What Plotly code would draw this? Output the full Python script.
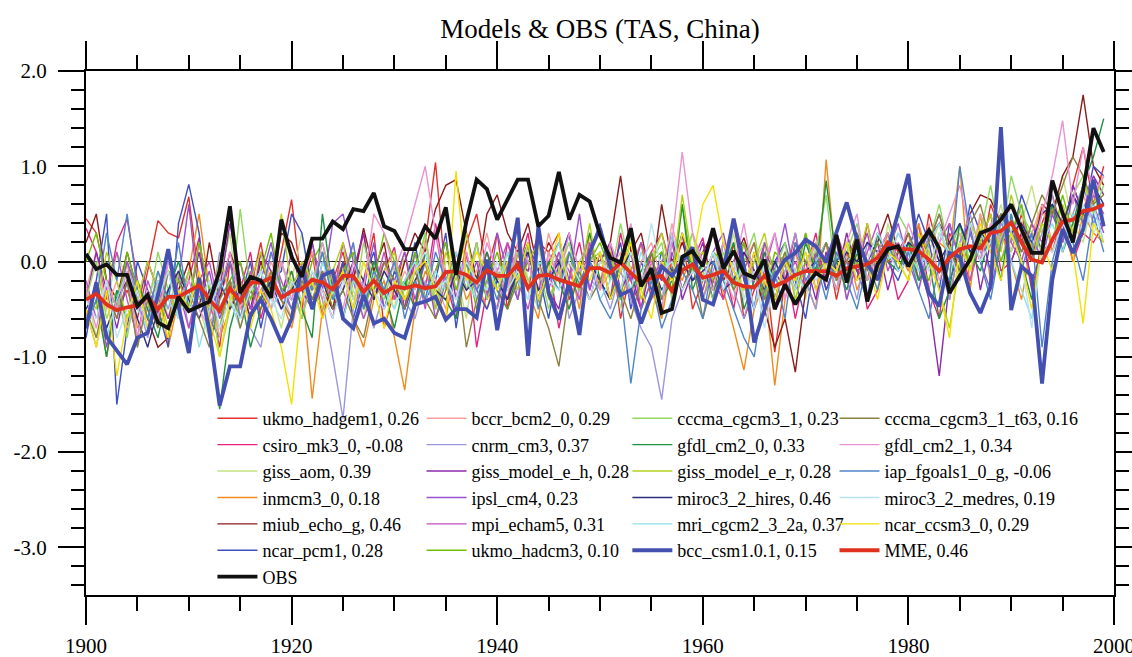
import plotly.graph_objects as go

years = list(range(1900, 2000))

ukmo_hadgem1 = [0.45, 0.3, -0.2, -0.5, -0.3, -0.6, -0.1, 0.43, 0.3, 0.25, 0.68, -0.2, -0.4, -0.9, 0.0, -0.5, -0.3, 0.2, -0.4, 0.1,
                0.65, -0.3, 0.1, -0.6, -0.2, 0.1, -0.4, -0.2, 0.3, -0.7, -0.3, 0.1, -0.5, 0.2, 1.04, -0.2, -0.4, 0.2, 0.5, -0.1,
                0.3, -0.5, 0.1, -0.3, 0.2, 0.1, 0.3, -0.4, -0.1, 0.0, -0.3, 0.2, -0.6, -0.1, 0.2, -0.4, 0.0, -0.2, 0.3, -0.5,
                -0.2, 0.1, -0.4, 0.2, -0.6, -0.3, 0.0, -0.95, -0.2, 0.3, -0.3, -0.1, 0.2, -0.4, 0.1, -0.2, 0.4, -0.1, 0.2, 0.0,
                0.3, -0.2, 0.5, 0.1, -0.4, 0.2, 0.4, 0.0, 0.6, 0.3, 0.1, 0.5, 0.0, 0.4, 0.7, 0.3, 0.8, 1.2, 0.6, 1.0]
csiro_mk3_0 = [0.35, 0.1, -0.4, 0.2, 0.45, -0.2, -0.6, -0.3, 0.1, -0.5, -0.2, 0.25, -0.7, -0.4, 0.0, -0.3, 0.1, -0.6, -0.2, -0.4,
               -0.1, -0.5, 0.2, -0.3, -0.6, 0.0, -0.2, 0.3, -0.4, -0.1, 0.15, -0.5, 0.0, -0.3, 0.4, -0.2, -0.6, 0.1, -0.9, -0.3,
               -0.5, 0.2, -0.1, 0.3, -0.4, 0.0, -0.7, -0.2, 0.2, -0.3, 0.1, -0.4, 0.3, -0.2, -0.5, 0.1, 0.3, -0.1, 0.2, 0.0,
               0.25, -0.3, 0.0, -0.5, 0.1, -0.2, 0.2, -0.4, 0.0, -0.6, -0.1, 0.3, -0.3, 0.0, -0.2, 0.2, -0.5, -0.3, 0.1, -0.4,
               -0.2, 0.4, -0.3, -0.6, 0.3, 0.1, -0.2, 0.2, 0.5, -0.1, 0.0, 0.3, -0.3, 0.2, 0.1, 0.5, 0.0, 0.3, 0.2, 0.4]
giss_aom = [-0.3, -0.8, -0.5, 0.1, -0.2, -0.9, -0.4, -0.1, -0.6, -0.3, 0.0, -0.5, -0.8, -0.2, 0.3, -0.6, -0.4, 0.1, -0.3, -0.7,
            -0.2, 0.3, -0.4, -0.1, -0.5, 0.2, -0.3, -0.6, 0.0, -0.2, -0.5, 0.1, -0.3, 0.3, -0.4, 0.0, -0.1, -0.6, 0.2, -0.3,
            0.0, -0.3, 0.4, -0.2, -0.5, 0.1, -0.1, 0.3, -0.4, 0.0, -0.2, 0.2, -0.5, 0.1, -0.3, 0.0, -0.6, 0.2, -0.1, 0.3,
            -0.3, 0.1, -0.2, 0.3, -0.4, 0.0, 0.2, -0.3, -0.1, 0.1, -0.4, 0.2, 0.0, -0.2, 0.3, -0.1, 0.1, -0.3, 0.4, 0.0,
            0.2, -0.3, 0.1, 0.4, -0.1, 0.3, 0.0, 0.5, 0.2, 0.6, 0.1, 0.4, 0.8, 0.3, 0.5, 0.9, 0.4, 0.2, 0.7, 0.5]
inmcm3_0 = [-0.6, -0.3, -1.0, -0.4, 0.0, -0.7, -0.5, -0.2, -0.9, -0.4, -0.1, 0.5, -0.3, -0.8, -0.5, -0.2, -0.6, -0.3, -0.1, -0.4,
            -0.7, -0.2, -1.44, -0.5, -0.3, 0.0, -0.6, -0.9, -0.4, -0.2, -0.8, -1.35, -0.5, -0.1, -0.3, -0.6, 0.0, -0.4, -0.2, -0.5,
            -0.1, -0.4, 0.2, -0.3, -0.6, 0.1, -0.2, 0.0, -0.5, 0.3, -0.2, 0.1, -0.4, -0.1, 0.2, -0.3, -0.6, 0.0, -0.2, 0.1,
            -0.4, 0.0, -0.3, -0.7, -1.14, -0.5, -0.2, -1.3, -0.4, 0.1, -0.2, -0.5, 1.07, -0.1, 0.2, -0.3, 0.0, -0.2, 0.3, 0.1,
            -0.1, 0.4, 0.0, 0.2, 0.1, 1.0, -0.3, 0.5, -0.2, 0.3, 0.0, -0.4, 0.2, 0.6, 0.1, 0.4, 0.0, 0.5, 0.3, 0.2]
miub_echo_g = [0.2, 0.5, -0.2, -0.4, 0.1, -0.3, -0.6, -0.9, -0.8, -0.3, 0.0, -0.5, 0.2, -0.4, 0.1, -0.2, -0.5, 0.0, -0.3, 0.3,
               0.2, -0.1, 0.1, -0.3, -0.5, 0.0, -0.2, 0.35, -0.1, 0.2, -0.4, 0.0, 0.3, 0.1, 0.55, 0.8, 0.86, 0.3, -0.2, 0.5,
               0.7, 0.3, 0.1, 0.4, -0.1, 0.2, 0.0, 0.3, -0.3, 0.1, 0.0, 0.2, 0.9, 0.1, 0.3, -0.2, 0.6, 0.0, 0.2, -0.1,
               0.1, 0.3, -0.2, 0.0, 0.25, -0.1, -0.5, -0.9, -0.6, -1.16, -0.3, 0.1, -0.2, 0.2, -0.1, 0.3, 0.0, 0.2, 0.5, 0.1,
               0.3, 0.0, 0.25, 0.4, 0.2, -0.1, 0.5, 0.7, 0.65, 0.4, 0.3, 0.2, 0.0, 0.6, 0.5, 0.9, 1.1, 1.75, 1.0, 0.8]
ncar_pcm1 = [-0.8, -0.2, 0.5, -1.5, -0.7, 0.0, -0.3, -0.5, -0.9, 0.4, 0.81, 0.3, -0.6, -0.8, -0.2, -0.4, 0.0, -0.7, -0.2, -0.1,
             0.5, 0.3, -0.3, 0.1, -0.4, 0.0, -0.6, -0.2, 0.1, -0.5, -0.1, -0.3, 0.2, -0.4, -0.2, 0.3, -0.7, 0.0, -0.3, -0.5,
             -0.2, 0.1, -0.4, 0.2, -0.1, -0.6, 0.0, 0.3, -0.3, 0.1, 0.4, -0.2, 0.2, -0.5, 0.0, -0.3, 0.1, -0.1, 0.3, -0.2,
             0.0, -0.4, 0.2, -0.1, -0.3, 0.1, -0.5, 0.0, 0.2, -0.2, -0.6, 0.1, -0.3, 0.0, 0.2, -0.1, -0.4, 0.3, 0.0, -0.2,
             0.1, 0.5, 0.2, -0.3, 0.4, 0.0, 0.6, 0.3, -0.1, 0.5, 0.2, 0.7, 0.4, 0.1, 0.6, 0.3, 0.8, 0.5, 1.0, 0.9]
bccr_bcm2_0 = [-0.3, 0.1, -0.5, -0.2, -0.7, -0.4, 0.0, -0.3, -0.6, -0.1, -0.4, 0.2, -0.3, -0.8, -0.2, -0.5, -0.1, -0.4, 0.0, -0.3,
               -0.6, -0.2, 0.1, -0.4, -0.1, -0.3, 0.2, -0.5, -0.2, 0.0, -0.4, -0.1, -0.3, 0.2, -0.2, -0.5, 0.1, -0.3, -0.1, 0.3,
               -0.2, 0.0, -0.4, 0.1, -0.3, 0.3, -0.1, -0.5, 0.0, 0.2, -0.3, -0.1, 0.1, -0.4, 0.0, 0.2, -0.2, 0.4, -0.1, 0.0,
               -0.3, 0.1, -0.1, -0.4, 0.0, 0.2, -0.2, -0.5, 0.1, -0.1, 0.3, -0.3, 0.0, 0.2, -0.4, 0.1, -0.2, 0.0, 0.3, -0.1,
               0.2, 0.0, 0.4, -0.2, 0.1, 0.3, -0.1, 0.5, 0.2, 0.0, 0.4, 0.1, 0.3, 0.6, 0.2, 0.5, 0.3, 0.7, 0.4, 0.6]
cnrm_cm3 = [-0.5, -0.9, -0.3, -0.6, 0.0, -0.4, -0.8, -0.2, -0.5, -0.1, -0.7, -0.3, -0.6, 0.1, -0.4, -0.2, -0.7, -0.9, -0.3, -0.5,
            -0.2, -0.6, -0.1, -0.4, -1.0, -1.65, -0.5, -0.2, -0.7, -0.3, 0.0, -0.4, -0.6, -0.2, -0.5, -0.1, -0.3, 0.1, -0.4, -0.2,
            -0.5, -0.1, -0.3, 0.2, -0.4, -0.2, 0.1, -0.6, -0.3, 0.0, -0.2, -0.5, -0.1, -0.4, -0.7, -0.9, -1.45, -0.6, -0.3, 0.0,
            -0.4, -0.1, 0.2, -0.3, -0.6, -0.2, 0.0, -0.4, -0.1, 0.3, -0.2, -0.5, 0.1, -0.3, 0.0, -0.4, 0.2, -0.1, 0.0, 0.3,
            0.1, -0.2, 0.3, 0.0, -0.4, 0.2, 0.5, 0.1, -0.1, 0.4, 0.2, 0.6, 0.0, 0.3, 0.7, 0.2, 0.5, 0.8, 0.4, 0.6]
giss_model_e_h = [-0.4, 0.1, -0.3, -0.7, -0.2, -0.5, 0.0, -0.3, -0.6, -0.2, -0.4, 0.1, -0.5, -0.3, 0.4, -0.2, -0.6, 0.1, -0.1, -0.4,
                  0.1, -0.3, -0.5, 0.0, -0.2, -0.6, -0.1, 0.3, -0.4, 0.0, -0.2, -0.5, 0.1, -0.3, -0.1, 0.2, -0.4, 0.0, -0.3, 0.1,
                  -0.2, -0.4, 0.0, -0.1, 0.3, -0.3, -0.5, 0.1, -0.2, -0.4, 0.0, 0.2, -0.3, -0.1, -0.5, 0.0, -0.2, 0.3, -0.4, -0.1,
                  0.2, -0.3, 0.0, 0.4, -0.2, -0.5, 0.1, -0.1, -0.3, 0.2, 0.0, -0.4, 0.1, -0.2, 0.3, -0.1, 0.0, 0.2, -0.3, 0.1,
                  0.3, 0.0, -0.4, -1.2, -0.2, 0.1, 0.4, -0.3, 0.2, 0.5, 0.0, 0.3, -0.2, 0.1, 0.6, 0.3, 0.8, 0.5, 0.9, 0.7]
ipsl_cm4 = [-0.6, -0.2, -0.9, -0.4, 0.0, -0.3, -0.7, -0.5, 0.0, -0.2, 0.6, -0.4, -0.1, -0.6, -0.3, 0.0, -0.5, -0.2, 0.2, -0.3,
            -0.4, -0.1, 0.2, -0.3, 0.4, 0.5, 0.0, -0.3, 0.2, -0.5, -0.2, 0.1, -0.4, 0.0, -0.6, -0.2, 0.1, -0.3, 0.0, -0.4,
            0.3, -0.1, -0.4, 0.1, -0.3, 0.0, 0.2, -0.2, 0.5, -0.3, 0.1, -0.4, 0.0, -0.2, 0.2, -0.1, -0.4, 0.1, -0.3, 0.0,
            -0.3, 0.1, 0.3, -0.2, 0.0, -0.5, 0.2, -0.1, 0.4, -0.2, 0.1, -0.3, 0.0, 0.2, -0.4, 0.0, 0.3, -0.2, 0.1, 0.4,
            0.0, -0.3, 0.2, 0.5, 0.1, -0.2, 0.3, 0.0, -0.3, 0.2, 0.4, 0.1, 0.3, 0.0, 0.5, 0.2, 0.7, 0.4, 0.6, 0.3]
mpi_echam5 = [-0.2, -0.6, -0.3, 0.1, -0.4, -0.8, -0.2, -0.5, -0.1, -0.3, -0.7, -0.2, 0.0, -0.5, -0.3, -0.6, -0.1, -0.4, 0.1, -0.2,
              -0.5, 0.0, -0.3, -0.1, -0.4, 0.2, -0.2, -0.6, -0.3, 0.1, -0.4, -0.2, 0.0, -0.5, 0.3, -0.3, 0.0, -0.2, 0.2, -0.4,
              -0.1, 0.2, -0.2, -0.5, 0.0, -0.3, 0.1, -0.1, -0.4, 0.2, -0.2, 0.0, -0.3, 0.1, -0.5, -0.2, 0.0, 0.2, -0.3, -0.1,
              0.1, -0.2, -0.4, 0.0, 0.2, -0.3, -0.1, 0.3, -0.2, 0.0, -0.3, 0.1, -0.2, 0.3, 0.0, -0.2, 0.1, 0.4, -0.1, 0.2,
              0.0, 0.3, -0.1, 0.2, 0.4, 0.0, -0.2, 0.3, 0.1, 0.5, 0.2, 0.0, 0.4, 0.2, 0.6, 0.1, 0.5, 0.3, 0.7, 0.5]
ukmo_hadcm3 = [0.0, 0.3, -0.2, -0.5, 0.1, -0.3, -0.6, -0.4, -0.1, -0.2, -0.5, 0.2, -0.3, -0.7, -0.2, 0.0, -0.4, -0.1, 0.3, -0.3,
               -0.2, -0.4, 0.0, 0.2, -0.3, -0.1, 0.1, -0.5, -0.2, 0.3, 0.0, -0.3, 0.1, -0.4, -0.1, 0.2, -0.3, 0.0, -0.5, -0.2,
               0.1, -0.3, -0.1, 0.2, -0.4, 0.0, -0.2, 0.1, -0.3, 0.0, 0.2, -0.1, -0.4, 0.3, -0.2, 0.0, 0.1, -0.3, 0.6, -0.1,
               -0.2, 0.1, 0.0, -0.3, 0.2, -0.1, -0.4, 0.1, 0.0, -0.2, 0.3, -0.1, 0.0, -0.3, 0.2, 0.0, -0.2, 0.1, 0.3, -0.1,
               0.2, 0.0, -0.2, 0.3, 0.1, 0.4, -0.1, 0.2, 0.5, 0.0, 0.3, 0.6, 0.1, 0.4, 0.2, 0.7, 0.3, 0.5, 0.8, 0.4]
cccma_cgcm3_1 = [-0.4, 0.0, -0.6, -0.3, -0.8, -0.2, -0.5, 0.1, -0.3, -0.6, -0.1, -0.4, -0.2, -1.0, -0.5, 0.55, -0.3, -0.1, -0.4, 0.0,
                 -0.3, -0.6, -0.2, 0.1, -0.4, -0.1, -0.5, 0.2, -0.2, -0.4, 0.0, -0.3, -0.1, 0.3, -0.5, -0.2, 0.0, -0.3, 0.2, -0.4,
                 -0.1, -0.3, 0.1, -0.2, 0.0, -0.5, -0.1, 0.2, -0.3, 0.0, 0.1, -0.2, 0.4, -0.1, -0.3, 0.0, 0.2, -0.4, 0.0, 0.3,
                 -0.1, -0.4, 0.1, -0.2, 0.0, 0.3, -0.3, -0.1, 0.2, -0.4, 0.0, 0.1, 0.7, -0.2, 0.1, 0.4, -0.1, 0.2, 0.0, 0.5,
                 0.3, -0.1, 0.2, 0.6, 0.1, 0.4, 0.0, 0.3, 0.8, 0.2, 0.9, 0.5, 0.3, 0.1, 0.6, 0.4, 0.7, 0.9, 0.5, 0.8]
gfdl_cm2_0 = [-0.7, -0.4, -1.0, -0.3, -0.6, -0.2, -0.5, -0.8, -0.3, 0.0, -0.4, -0.2, -0.6, -1.55, -0.7, -0.3, -0.9, -0.5, -0.2, -0.4,
              -0.1, -0.5, -0.8, 0.5, -0.3, -0.6, -0.2, -0.4, 0.0, -0.3, -0.7, -0.2, -0.5, 0.1, -0.3, -0.4, -0.6, 0.0, -0.2, 0.1,
              -0.3, -0.5, -0.1, 0.2, -0.4, 0.0, -0.2, -0.5, -0.1, 0.3, -0.2, -0.4, 0.0, -0.3, -0.1, 0.1, -0.4, -0.2, 0.6, -0.3,
              0.0, -0.3, -0.1, 0.2, -0.5, -0.2, 0.1, -0.4, 0.0, -0.3, 0.2, -0.1, 0.85, 0.0, -0.3, 0.1, -0.2, 0.3, 0.0, -0.1,
              0.2, -0.2, 0.0, -0.6, -0.3, 0.4, 0.1, -0.1, 0.3, -0.2, 0.5, 0.0, -0.4, 0.2, 0.6, 0.1, 0.4, 0.8, 1.1, 1.5]
giss_model_e_r = [-0.3, -0.5, 0.1, -0.2, -0.6, -0.4, 0.0, -0.3, -0.7, -0.1, -0.4, -0.2, -0.5, 0.0, -0.3, -0.6, -0.2, 0.1, -0.4, 0.5,
                  -0.3, 0.0, -0.2, -0.5, -0.1, 0.2, -0.4, 0.0, -0.3, -0.1, 0.1, -0.4, -0.2, 0.0, -0.5, 0.1, -0.2, 0.3, -0.3, 0.0,
                  -0.2, 0.1, -0.3, 0.0, 0.2, -0.4, -0.1, 0.1, -0.2, 0.4, -0.3, 0.0, -0.1, 0.2, -0.4, 0.0, 0.3, -0.2, 0.7, 0.0,
                  0.1, -0.2, 0.2, -0.1, -0.3, 0.0, 0.3, -0.2, 0.1, -0.4, 0.0, 0.2, -0.1, 0.3, -0.2, 0.0, 0.4, -0.1, 0.2, 0.0,
                  -0.2, 0.3, 0.1, -0.3, -0.7, 0.0, 0.4, 0.2, 0.5, 0.1, 0.7, 0.3, 0.0, 0.4, 0.2, 0.6, 0.3, 0.8, 0.6, 0.9]
miroc3_2_hires = [-0.5, -0.3, -0.7, -0.4, -0.2, -0.6, -0.9, -0.5, -0.3, -0.1, -0.4, -0.6, -0.3, -0.2, -0.5, -0.3, -0.6, -0.4, -0.2, -0.5,
                  -0.3, -0.1, -0.4, -0.2, -0.5, -0.3, 0.0, -0.2, -0.4, -0.1, -0.3, -0.5, -0.2, 0.0, -0.3, -0.4, -0.1, -0.3, -0.2, 0.0,
                  -0.2, -0.4, -0.1, 0.1, -0.3, -0.2, 0.0, -0.3, -0.1, 0.0, -0.2, -0.4, -0.1, 0.1, -0.2, 0.0, -0.3, -0.1, 0.0, -0.2,
                  -0.1, 0.0, -0.3, -0.2, 0.1, -0.1, -0.3, 0.0, -0.2, 0.1, -0.1, 0.0, 0.2, -0.1, 0.1, 0.0, 0.2, 0.1, 0.3, 0.0,
                  0.2, 0.1, 0.3, 0.0, 0.2, 0.4, 0.1, 0.3, 0.2, 0.5, 0.3, 0.4, 0.2, 0.5, 0.6, 0.4, 0.7, 0.5, 0.8, 0.6]
mri_cgcm2_3_2a = [-0.6, -0.3, -0.8, -0.4, -0.1, -0.5, -0.7, -0.2, -0.4, -0.6, -0.3, -0.9, -0.5, -0.2, -0.4, -0.7, -0.3, -0.1, -0.5, -0.3,
                  -0.4, -0.2, -0.5, 0.0, -0.3, -0.6, -0.2, -0.4, -0.1, -0.3, -0.5, -0.2, 0.0, -0.4, -0.1, -0.3, 0.1, -0.2, -0.4, 0.0,
                  -0.3, 0.1, -0.2, -0.4, 0.0, -0.1, 0.2, -0.3, -0.1, 0.0, -0.4, -0.2, 0.0, -0.3, 0.1, -0.2, -0.4, 0.3, -0.1, 0.0,
                  -0.2, 0.1, -0.1, -0.3, 0.0, -0.5, 0.0, -0.2, 0.1, -0.1, -0.3, 0.0, 0.2, -0.2, 0.0, 0.1, -0.1, 0.2, 0.0, 0.3,
                  0.1, -0.1, 0.2, 0.4, 0.0, 0.2, -0.1, 0.3, 0.1, 0.5, 0.0, -0.3, -0.6, 0.2, 0.4, 0.1, 0.5, 0.3, 0.6, 0.2]
cccma_cgcm3_1_t63 = [-0.5, -0.8, -0.3, -0.6, -0.2, -0.9, -0.4, -0.7, -0.1, -0.5, -0.3, -0.6, -0.9, -0.4, -0.2, -0.7, -0.3, -0.5, -0.1, -0.4,
                     -0.6, -0.2, -0.4, -0.1, -0.5, -0.3, -0.6, -0.8, -0.3, 0.0, -0.2, -0.5, -0.1, -0.4, -0.6, -0.3, 0.0, -0.9, -0.4, -0.1,
                     -0.3, -0.5, -0.2, 0.0, -0.4, -0.7, -1.1, -0.3, -0.1, -0.4, -0.2, 0.0, -0.3, -0.6, -0.2, 0.1, -0.4, -0.1, -0.3, 0.0,
                     -0.6, -0.2, 0.0, -0.3, -0.1, 0.2, -0.4, -0.2, 0.1, -0.3, 0.0, -0.1, 0.2, -0.2, 0.0, 0.3, -0.1, 0.2, 0.0, 0.1,
                     0.3, 0.0, 0.2, 0.5, 0.1, -0.1, 0.4, 0.6, 0.2, 0.5, 0.3, 0.1, 0.4, 0.7, 0.5, 0.8, 1.1, 0.9, 0.6, 0.7]
gfdl_cm2_1 = [-0.3, -0.7, -0.2, -0.5, -0.1, -0.8, -0.3, -0.6, 0.0, -0.4, -0.2, -0.5, -0.7, -0.3, 0.1, -0.4, -0.6, -0.2, -0.5, 0.0,
              -0.4, -0.1, -0.3, 0.2, -0.2, -0.5, 0.0, -0.3, 0.5, 0.3, -0.1, 0.2, 0.6, 1.0, 0.3, -0.2, -0.4, 0.1, -0.3, 0.2,
              -0.1, -0.3, 0.2, 0.0, -0.4, 0.1, -0.2, 0.3, -0.1, 0.0, -0.3, 0.2, -0.1, 0.4, -0.2, 0.0, -0.5, 0.2, 1.15, 0.3,
              0.0, -0.3, 0.2, -0.1, 0.4, -0.2, 0.0, 0.3, -0.4, 0.1, -0.1, 0.2, 0.0, -0.3, 0.2, 0.5, -0.2, 0.1, 0.3, 0.0,
              0.4, 0.1, -0.3, 0.2, 0.5, 0.8, 0.3, 0.0, 0.4, 0.2, 0.6, 0.3, 0.1, 0.5, 0.9, 1.48, 0.6, 1.2, 0.7, 0.9]
iap_fgoals1_0_g = [-0.7, -0.4, 0.3, -0.2, 0.5, -0.3, -0.6, -0.1, -0.4, 0.2, -0.5, -0.2, -0.8, -0.3, 0.0, -0.6, -0.2, -0.4, 0.1, -0.3,
                   -0.5, -0.1, -0.3, 0.1, -0.4, -0.2, 0.2, -0.5, -0.1, -0.3, 0.0, -0.6, -0.2, -0.4, 0.1, -0.2, -0.5, 0.0, -0.3, -0.1,
                   -0.4, 0.0, -0.2, 0.2, -0.5, -0.1, -0.3, 0.1, -0.2, 0.0, -0.4, -0.6, -0.3, -1.28, -0.5, -0.2, -0.7, -0.4, -0.1, -0.3,
                   -0.6, 0.0, -0.2, -0.5, -0.8, -1.0, -0.3, -0.1, -0.6, 0.2, -0.2, 0.0, -0.4, 0.1, -0.2, -0.5, 0.0, -0.3, 0.2, -0.1,
                   0.1, -0.3, -0.6, 0.0, -0.2, 1.0, 0.3, 0.0, -0.4, 0.2, 0.5, -0.1, 0.3, -0.9, 0.0, 0.4, 0.2, -0.2, 0.5, 0.1]
miroc3_2_medres = [-0.4, -0.6, -0.2, -0.8, -0.5, -0.3, -0.7, -0.4, -0.1, -0.6, -0.3, -0.5, -0.2, -0.7, -0.4, -0.6, -0.3, -0.1, -0.4, -0.6,
                   -0.2, -0.4, -0.1, -0.3, -0.6, -0.2, -0.4, 0.0, -0.3, -0.5, -0.2, -0.4, -0.1, 0.1, -0.3, -0.2, -0.4, 0.0, -0.2, -0.3,
                   0.0, -0.3, -0.1, -0.4, 0.1, -0.2, -0.3, 0.0, -0.2, -0.4, 0.0, -0.1, -0.3, 0.1, -0.2, 0.4, -0.1, 0.0, -0.3, -0.1,
                   -0.2, 0.1, -0.3, 0.0, -0.4, -0.1, -0.7, -0.2, 0.0, -0.3, 0.1, -0.2, 0.0, -0.1, 0.2, -0.2, 0.0, 0.3, 0.1, -0.1,
                   0.0, 0.2, -0.1, 0.3, 0.1, -0.2, 0.4, 0.0, 0.2, 1.1, 0.3, 0.0, -0.7, 0.2, 0.1, 0.4, 0.2, 0.6, 0.3, 0.5]
ncar_ccsm3_0 = [-0.5, -0.9, -0.3, -1.2, -0.6, -0.2, -0.7, -0.4, -0.8, -0.3, -0.5, -0.1, -0.6, -1.0, -0.4, -0.2, -0.7, -0.3, -0.5, -0.9,
                -1.5, -0.4, -0.2, -0.6, -0.3, -0.1, -0.5, 0.0, -0.3, -0.7, -0.2, -0.4, -0.1, 0.0, -0.3, -0.6, 0.95, -0.2, 0.1, -0.1,
                -0.3, 0.0, -0.2, 0.2, -0.4, -0.1, 0.3, -0.3, 0.0, -0.2, 0.1, -0.4, -0.1, 0.2, -0.3, -0.6, 0.0, -0.2, 0.3, 0.0,
                0.6, 0.8, 0.2, -0.1, -0.3, 0.1, -0.2, -0.4, 0.0, -0.2, 0.1, -0.3, 0.0, -0.1, 0.2, -0.2, 0.0, -0.4, 0.1, 0.0,
                -0.2, 0.3, 0.0, -0.3, -0.8, 0.2, -0.1, 0.4, 0.1, -0.2, 0.3, 0.0, -0.5, 0.2, -0.1, 0.3, 0.1, -0.65, 0.4, 0.2]
bcc_csm1_0_1 = [-0.7, -0.22, -0.79, -0.93, -1.08, -0.80, -0.75, -0.36, 0.13, -0.47, -0.96, -0.17, -0.73, -1.51, -1.10, -1.10, -0.56, -0.40, -0.60, -0.85,
                -0.60, -0.05, -0.50, -0.15, -0.10, -0.60, -0.70, -0.35, -0.65, -0.60, -0.75, -0.80, -0.45, -0.42, -0.37, -0.61, -0.50, -0.50, -0.59, 0.02,
                -0.72, -0.15, 0.46, -0.99, 0.37, -0.33, -0.61, -0.22, -0.77, 0.10, 0.35, -0.05, -0.35, -0.30, -0.65, -0.35, -0.05, -0.15, 0.00, 0.15,
                -0.40, -0.45, -0.10, 0.45, -0.05, -0.85, -0.51, -0.16, 0.02, 0.09, 0.23, 0.16, -0.01, 0.30, 0.62, 0.23, -0.03, -0.19, 0.13, 0.51,
                0.92, 0.02, -0.33, -0.47, 0.09, 0.05, -0.33, -0.54, -0.26, 1.41, -0.51, -0.05, -0.15, -1.28, -0.19, 0.34, 0.09, 0.34, 0.86, 0.37]
mme = [-0.40, -0.34, -0.45, -0.51, -0.48, -0.46, -0.37, -0.50, -0.37, -0.37, -0.31, -0.25, -0.40, -0.52, -0.28, -0.42, -0.22, -0.22, -0.17, -0.38,
       -0.31, -0.29, -0.19, -0.22, -0.29, -0.15, -0.15, -0.32, -0.20, -0.33, -0.26, -0.28, -0.25, -0.28, -0.26, -0.11, -0.10, -0.14, -0.22, -0.09,
       -0.15, -0.15, -0.03, -0.28, -0.15, -0.14, -0.19, -0.22, -0.26, -0.07, -0.07, -0.12, -0.01, -0.12, -0.22, -0.17, -0.15, -0.31, -0.09, -0.03,
       -0.17, -0.14, -0.10, -0.22, -0.26, -0.27, -0.15, -0.26, -0.21, -0.14, -0.10, -0.10, -0.10, -0.15, -0.07, -0.05, -0.03, 0.04, 0.20, 0.13,
       0.13, 0.11, 0.02, -0.10, 0.04, 0.13, 0.16, 0.14, 0.30, 0.32, 0.41, 0.20, 0.02, -0.01, 0.23, 0.42, 0.44, 0.53, 0.55, 0.60]
obs = [0.08, -0.08, -0.03, -0.14, -0.14, -0.47, -0.35, -0.64, -0.70, -0.37, -0.52, -0.47, -0.42, -0.10, 0.58, -0.33, -0.16, -0.20, -0.38, 0.44,
       0.05, -0.16, 0.24, 0.24, 0.42, 0.34, 0.55, 0.53, 0.72, 0.37, 0.32, 0.13, 0.13, 0.37, 0.24, 0.57, -0.14, 0.42, 0.86, 0.76,
       0.44, 0.65, 0.86, 0.86, 0.37, 0.48, 0.94, 0.44, 0.70, 0.63, 0.28, 0.04, -0.01, 0.35, -0.26, -0.07, -0.54, -0.50, 0.05, 0.11,
       -0.05, 0.35, -0.07, 0.11, -0.12, -0.17, 0.02, -0.50, -0.24, -0.45, -0.26, -0.12, -0.19, 0.28, -0.22, 0.23, -0.42, -0.03, 0.13, 0.16,
       -0.05, 0.16, 0.33, 0.14, -0.33, -0.15, 0.02, 0.30, 0.34, 0.44, 0.60, 0.34, 0.09, 0.09, 0.85, 0.51, 0.20, 0.75, 1.40, 1.15]

# (name, correlation, values, colour, legend column)
models = [
    ("ukmo_hadgem1", "0.26", ukmo_hadgem1, "#e2302c", 1),
    ("csiro_mk3_0", "-0.08", csiro_mk3_0, "#e2247c", 1),
    ("giss_aom", "0.39", giss_aom, "#c2e282", 1),
    ("inmcm3_0", "0.18", inmcm3_0, "#f28a1e", 1),
    ("miub_echo_g", "0.46", miub_echo_g, "#8b1a1a", 1),
    ("ncar_pcm1", "0.28", ncar_pcm1, "#3c4fc4", 1),
    ("bccr_bcm2_0", "0.29", bccr_bcm2_0, "#f7a0a0", 2),
    ("cnrm_cm3", "0.37", cnrm_cm3, "#9a96e0", 2),
    ("giss_model_e_h", "0.28", giss_model_e_h, "#8e2aa8", 2),
    ("ipsl_cm4", "0.23", ipsl_cm4, "#9650d0", 2),
    ("mpi_echam5", "0.31", mpi_echam5, "#c050c0", 2),
    ("ukmo_hadcm3", "0.10", ukmo_hadcm3, "#6fc000", 2),
    ("cccma_cgcm3_1", "0.23", cccma_cgcm3_1, "#92d862", 3),
    ("gfdl_cm2_0", "0.33", gfdl_cm2_0, "#1e9040", 3),
    ("giss_model_e_r", "0.28", giss_model_e_r, "#b6d01e", 3),
    ("miroc3_2_hires", "0.46", miroc3_2_hires, "#2e2e80", 3),
    ("mri_cgcm2_3_2a", "0.37", mri_cgcm2_3_2a, "#8ee0ea", 3),
    ("cccma_cgcm3_1_t63", "0.16", cccma_cgcm3_1_t63, "#8c8040", 4),
    ("gfdl_cm2_1", "0.34", gfdl_cm2_1, "#ea92d2", 4),
    ("iap_fgoals1_0_g", "-0.06", iap_fgoals1_0_g, "#4f84c8", 4),
    ("miroc3_2_medres", "0.19", miroc3_2_medres, "#b8e2f4", 4),
    ("ncar_ccsm3_0", "0.29", ncar_ccsm3_0, "#f5e000", 4),
]
thick = [
    ("bcc_csm1.0.1", "0.15", bcc_csm1_0_1, "#4450b0", 3),
    ("MME", "0.46", mme, "#e0301e", 4),
    ("OBS", None, obs, "#111111", 1),
]

FONT = "Liberation Serif, Times New Roman, Times, serif"
LEG = {1: "legend", 2: "legend2", 3: "legend3", 4: "legend4"}

fig = go.Figure()
rank = 0
for name, r, vals, col, c in models:
    rank += 1
    fig.add_trace(go.Scatter(x=years, y=vals, mode="lines", name=f"{name}, {r}",
                             line=dict(color=col, width=1.4), legend=LEG[c], legendrank=rank))
for name, r, vals, col, c in thick:
    rank += 1
    label = name if r is None else f"{name}, {r}"
    fig.add_trace(go.Scatter(x=years, y=vals, mode="lines", name=label,
                             line=dict(color=col, width=3.8), legend=LEG[c], legendrank=rank))

leg_common = dict(orientation="v", yanchor="top", xanchor="left", bgcolor="rgba(0,0,0,0)",
                  borderwidth=0, font=dict(family=FONT, size=18, color="black"),
                  traceorder="normal", itemwidth=40, tracegroupgap=0)
leg_y = 0.372
fig.update_layout(
    width=1132, height=657,
    margin=dict(l=86, r=18, t=71, b=62, autoexpand=False),
    paper_bgcolor="white", plot_bgcolor="white",
    font=dict(family=FONT, color="black"),
    title=dict(text="Models &amp; OBS (TAS, China)", x=0.5, xref="paper", xanchor="center",
               y=0.957, yref="container", yanchor="middle",
               font=dict(family=FONT, size=27, color="black")),
    showlegend=True,
    legend=dict(x=0.123, y=leg_y, **leg_common),
    legend2=dict(x=0.3264, y=leg_y, **leg_common),
    legend3=dict(x=0.5266, y=leg_y, **leg_common),
    legend4=dict(x=0.7281, y=leg_y, **leg_common),
)
fig.update_xaxes(range=[1900, 2000], tickvals=[1900, 1920, 1940, 1960, 1980, 2000],
                 ticks="outside", ticklen=28, tickwidth=2, tickcolor="black",
                 showline=True, linewidth=2, linecolor="black", mirror="allticks",
                 showgrid=False, zeroline=False, automargin=False,
                 ticklabeloverflow="allow", ticklabelstandoff=3,
                 tickfont=dict(family=FONT, size=21, color="black"),
                 minor=dict(dtick=5, tick0=1900, ticks="outside", ticklen=14, tickwidth=1.5,
                            tickcolor="black", showgrid=False))
fig.update_yaxes(range=[-3.5, 2.0], tickvals=[-3, -2, -1, 0, 1, 2],
                 ticktext=["-3.0", "-2.0", "-1.0", "0.0", "1.0", "2.0"],
                 ticks="outside", ticklen=26, tickwidth=2, tickcolor="black",
                 showline=True, linewidth=2, linecolor="black", mirror="allticks",
                 showgrid=False, zeroline=True, zerolinecolor="#1a261a", zerolinewidth=1.3,
                 automargin=False, ticklabelstandoff=7,
                 tickfont=dict(family=FONT, size=21, color="black"),
                 minor=dict(dtick=0.2, tick0=0, ticks="outside", ticklen=13, tickwidth=1.5,
                            tickcolor="black", showgrid=False))

fig.write_html("out.html")
